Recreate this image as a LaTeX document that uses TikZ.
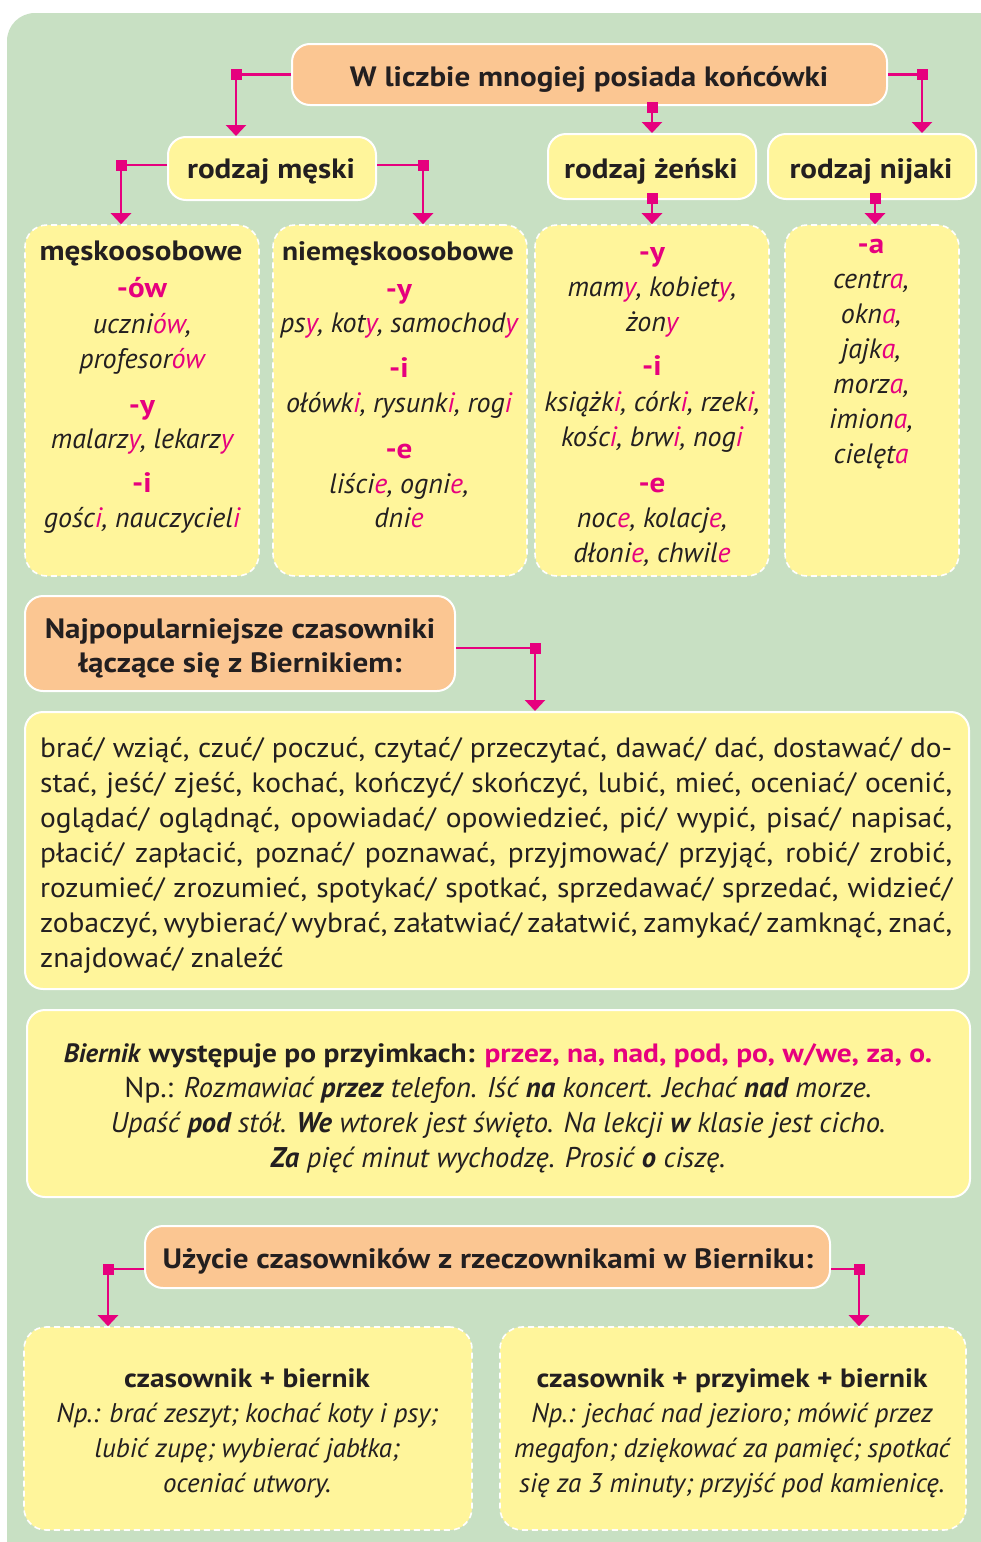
\documentclass[tikz,border=0pt]{standalone}
\usepackage{fontspec}
\setmainfont{PT Sans}[UprightFeatures={FakeStretch=1.05}, BoldFeatures={FakeStretch=1.11}]
\usetikzlibrary{arrows.meta}
\definecolor{bggreen}{HTML}{C8E0C3}
\definecolor{yel}{HTML}{FFF59B}
\definecolor{org}{HTML}{FBC692}
\definecolor{pnk}{HTML}{E6007E}
\definecolor{ink}{HTML}{231F20}
\newcommand\pkc[1]{\textcolor{pnk}{#1}}
\tikzset{
  orgbox/.style={draw=white, line width=2pt, fill=org, rounded corners=18pt, inner sep=0},
  yelbox/.style={draw=white, line width=2pt, fill=yel, rounded corners=18pt, inner sep=0},
  dashbox/.style={draw=white, line width=1.6pt, dash pattern=on 6pt off 4pt, fill=yel, rounded corners=22pt, inner sep=0},
  link/.style={draw=pnk, line width=2.5pt},
  arr/.style={link, -{Triangle[width=20pt,length=11pt]}},
  sqm/.style={fill=pnk, minimum size=11pt, inner sep=0},
  txt/.style={anchor=base, inner sep=0, text=ink, font=\fontsize{28}{32}\selectfont},
  txti/.style={txt, font=\fontsize{28}{32}\selectfont\itshape},
  txtb/.style={txt, font=\fontsize{28}{32}\selectfont\bfseries},
  lbl/.style={txt, text=pnk, font=\fontsize{28}{32}\selectfont\bfseries},
  body/.style={anchor=base west, inner sep=0, text=ink, font=\fontsize{28}{32}\selectfont},
  small/.style={font=\fontsize{27}{31}\selectfont\itshape},
  smallb/.style={font=\fontsize{26.5}{30}\selectfont\bfseries},
}
\begin{document}
\begin{tikzpicture}[x=1pt,y=-1pt]
\useasboundingbox (0,0) rectangle (981,1542);
\clip (0,0) rectangle (981,1542);
\fill[white] (0,0) rectangle (981,1542);
\fill[bggreen, rounded corners=28pt] (7,13) rectangle (1040,1600);

% boxes
\node[orgbox, minimum width=595pt, minimum height=61pt] (title) at (589.5,74.5) {};
\node[yelbox, minimum width=208pt, minimum height=63pt] (m) at (272,168.5) {};
\node[yelbox, minimum width=208pt, minimum height=65pt] (z) at (652,166.5) {};
\node[yelbox, minimum width=208pt, minimum height=65pt] (n) at (872,166.5) {};
\node[dashbox, minimum width=234pt, minimum height=351pt] (d1) at (142,400.5) {};
\node[dashbox, minimum width=254pt, minimum height=351pt] (d2) at (400,400.5) {};
\node[dashbox, minimum width=234pt, minimum height=351pt] (d3) at (652,400.5) {};
\node[dashbox, minimum width=174pt, minimum height=351pt] (d4) at (872,400.5) {};
\node[orgbox, minimum width=430pt, minimum height=95pt] (o2) at (240,643.5) {};
\node[yelbox, minimum width=944pt, minimum height=277pt] (big) at (497,850.5) {};
\node[yelbox, minimum width=943pt, minimum height=187pt] (bier) at (498.5,1103.5) {};
\node[orgbox, minimum width=685pt, minimum height=62pt] (u) at (487.5,1257) {};
\node[dashbox, minimum width=448pt, minimum height=203pt] (bl) at (248,1428.5) {};
\node[dashbox, minimum width=466pt, minimum height=203pt] (br) at (733,1428.5) {};

% connectors
\coordinate (k1) at (236,74.5);
\coordinate (k2) at (652,107);
\coordinate (k3) at (922,74.5);
\coordinate (k4) at (121,165);
\coordinate (k5) at (423,165);
\coordinate (k6) at (652,198);
\coordinate (k7) at (875,198);
\coordinate (k8) at (535,648);
\coordinate (k9) at (108,1269);
\coordinate (k10) at (859,1269);
\draw[link] (title.west) -- (k1);
\draw[arr] (k1) -- (k1 |- m.north);
\draw[arr] (k2) -- (k2 |- z.north);
\draw[link] (title.east) -- (k3);
\draw[arr] (k3) -- (k3 |- n.north);
\draw[link] (m.west |- k4) -- (k4);
\draw[arr] (k4) -- (k4 |- d1.north);
\draw[link] (m.east |- k5) -- (k5);
\draw[arr] (k5) -- (k5 |- d2.north);
\draw[arr] (k6) -- (k6 |- d3.north);
\draw[arr] (k7) -- (k7 |- d4.north);
\draw[link] (o2.east |- k8) -- (k8);
\draw[arr] (k8) -- (k8 |- big.north);
\draw[link] (u.west |- k9) -- (k9);
\draw[arr] (k9) -- (k9 |- bl.north);
\draw[link] (u.east |- k10) -- (k10);
\draw[arr] (k10) -- (k10 |- br.north);
\foreach \k in {k1,k2,k3,k4,k5,k6,k7,k8,k9,k10} \node[sqm] at (\k) {};

% header texts
\node[txtb] (tt) at (589,86) {W liczbie mnogiej posiada końcówki};
\node[txtb] (mt) at (271,178) {rodzaj męski};
\node[txtb] (zt) at (651,178) {rodzaj żeński};
\node[txtb] (nt) at (871,178) {rodzaj nijaki};

% box 1
\node[txtb] (a1) at (141,260) {męskoosobowe};
\node[lbl] (a2) at (142,297) {-ów};
\node[txti] (a3) at (142,333) {uczni\pkc{ów},};
\node[txti] (a4) at (142,368) {profesor\pkc{ów}};
\node[lbl] (a5) at (142,414) {-y};
\node[txti] (a6) at (142,448) {malarz\pkc{y}, lekarz\pkc{y}};
\node[lbl] (a7) at (142,492) {-i};
\node[txti] (a8) at (142,527) {gośc\pkc{i}, nauczyciel\pkc{i}};

% box 2
\node[txtb, font=\fontsize{26.6}{30}\selectfont\bfseries] (b1) at (398,260) {niemęskoosobowe};
\node[lbl] (b2) at (399,298) {-y};
\node[txti] (b3) at (399,332) {ps\pkc{y}, kot\pkc{y}, samochod\pkc{y}};
\node[lbl] (b4) at (399,377) {-i};
\node[txti] (b5) at (399,412) {ołówk\pkc{i}, rysunk\pkc{i}, rog\pkc{i}};
\node[lbl] (b6) at (399,458) {-e};
\node[txti] (b7) at (399,493) {liści\pkc{e}, ogni\pkc{e},};
\node[txti] (b8) at (399,527) {dni\pkc{e}};

% box 3
\node[lbl] (c1) at (652,261) {-y};
\node[txti] (c2) at (652,296) {mam\pkc{y}, kobiet\pkc{y},};
\node[txti] (c3) at (652,331) {żon\pkc{y}};
\node[lbl] (c4) at (652,375) {-i};
\node[txti] (c5) at (652,411) {książk\pkc{i}, córk\pkc{i}, rzek\pkc{i},};
\node[txti] (c6) at (652,446) {kośc\pkc{i}, brw\pkc{i}, nog\pkc{i}};
\node[lbl] (c7) at (652,492) {-e};
\node[txti] (c8) at (652,527) {noc\pkc{e}, kolacj\pkc{e},};
\node[txti] (c9) at (652,562) {dłoni\pkc{e}, chwil\pkc{e}};

% box 4
\node[lbl] (e1) at (871,253) {-a};
\node[txti] (e2) at (871,288) {centr\pkc{a},};
\node[txti] (e3) at (871,323) {okn\pkc{a},};
\node[txti] (e4) at (871,358) {jajk\pkc{a},};
\node[txti] (e5) at (871,393) {morz\pkc{a},};
\node[txti] (e6) at (871,428) {imion\pkc{a},};
\node[txti] (e7) at (871,463) {cielęt\pkc{a}};

% orange 2
\node[txtb] (o2a) at (240,638) {Najpopularniejsze czasowniki};
\node[txtb] (o2b) at (240,672) {łączące się z Biernikiem:};

% big text
\node[body] (g1) at (40,757) {\makebox[912pt][s]{brać/ wziąć, czuć/ poczuć, czytać/ przeczytać, dawać/ dać, dostawać/ do-}};
\node[body] (g2) at (40,792) {\makebox[912pt][s]{stać, jeść/ zjeść, kochać, kończyć/ skończyć, lubić, mieć, oceniać/ ocenić,}};
\node[body] (g3) at (40,827) {\makebox[912pt][s]{oglądać/ oglądnąć, opowiadać/ opowiedzieć, pić/ wypić, pisać/ napisać,}};
\node[body] (g4) at (40,862) {\makebox[912pt][s]{płacić/ zapłacić, poznać/ poznawać, przyjmować/ przyjąć, robić/ zrobić,}};
\node[body] (g5) at (40,897) {\makebox[912pt][s]{rozumieć/ zrozumieć, spotykać/ spotkać, sprzedawać/ sprzedać, widzieć/}};
\node[body] (g6) at (40,932) {\makebox[912pt][s]{zobaczyć, wybierać/ wybrać, załatwiać/ załatwić, zamykać/ zamknąć, znać,}};
\node[body] (g7) at (40,967) {znajdować/ znaleźć};

% biernik box
\node[txt, font=\fontsize{26.5}{30}\selectfont] (h1) at (498,1062) {\textbf{\textit{Biernik} występuje po przyimkach:} \textcolor{pnk}{\textbf{przez, na, nad, pod, po, w/we, za, o.}}};
\node[txt, font=\fontsize{28.5}{32}\selectfont] (h2) at (498,1097) {Np.: \textit{Rozmawiać \textbf{przez} telefon. Iść \textbf{na} koncert. Jechać \textbf{nad} morze.}};
\node[txti, font=\fontsize{28.5}{32}\selectfont\itshape] (h3) at (498,1132) {Upaść \textbf{pod} stół. \textbf{We} wtorek jest święto. Na lekcji \textbf{w} klasie jest cicho.};
\node[txti, font=\fontsize{28.5}{32}\selectfont\itshape] (h4) at (498,1167) {\textbf{Za} pięć minut wychodzę. Prosić \textbf{o} ciszę.};

% uzycie
\node[txtb] (ut) at (488,1268) {Użycie czasowników z rzeczownikami w Bierniku:};

\node[txtb, smallb] (l1) at (247,1387) {czasownik + biernik};
\node[txti, small] (l2) at (247,1422) {Np.: brać zeszyt; kochać koty i psy;};
\node[txti, small] (l3) at (247,1457) {lubić zupę; wybierać jabłka;};
\node[txti, small] (l4) at (247,1492) {oceniać utwory.};

\node[txtb, smallb] (r1) at (732,1387) {czasownik + przyimek + biernik};
\node[txti, small] (r2) at (732,1422) {Np.: jechać nad jezioro; mówić przez};
\node[txti, small] (r3) at (732,1457) {megafon; dziękować za pamięć; spotkać};
\node[txti, small] (r4) at (732,1492) {się za 3 minuty; przyjść pod kamienicę.};
\end{tikzpicture}
\end{document}
